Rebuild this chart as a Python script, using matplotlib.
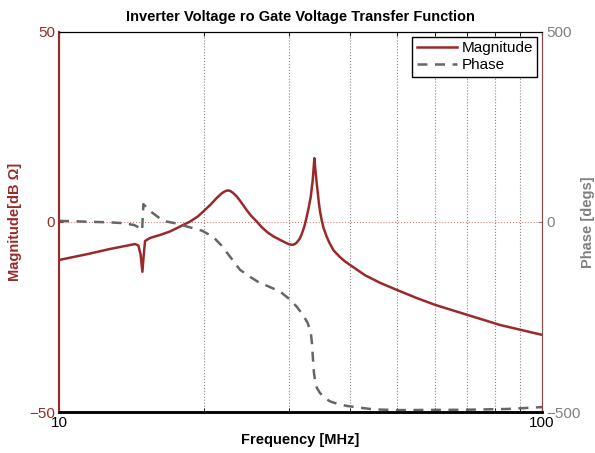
import matplotlib
matplotlib.use("Agg")
import matplotlib.pyplot as plt

plt.rcParams["font.family"] = ["Liberation Sans", "DejaVu Sans"]

# magnitude curve (MHz, dB)
mag_freq = [10.0, 11.5, 12.75, 13.6, 14.37, 14.6, 14.75, 14.88, 14.98, 15.07, 15.43,
            16.2, 16.97, 17.8, 18.67, 19.4, 20.06, 20.6, 21.2, 21.7, 22.0, 22.3,
            22.6, 22.9, 23.3, 23.7, 24.1, 24.5, 25.0, 25.67, 26.3, 27.0, 27.8,
            28.68, 29.5, 30.0, 30.33, 30.7, 31.06, 31.5, 31.8, 32.2, 32.57, 32.9,
            33.2, 33.5, 33.65, 33.78, 33.9, 34.05, 34.2, 34.5, 34.7, 35.0, 35.3,
            35.8, 36.3, 36.98, 38.0, 39.0, 40.04, 43.0, 46.19, 50.1, 55.0,
            60.03, 70.29, 81.85, 100.0]
mag_db = [-10.0, -8.4, -7.1, -6.4, -5.8, -6.2, -8.5, -13.1, -8.5, -5.0, -4.2,
          -3.4, -2.5, -1.2, 0.1, 1.5, 3.2, 4.6, 6.3, 7.5, 8.0, 8.3,
          8.2, 7.7, 6.8, 5.6, 4.3, 3.0, 1.6, 0.1, -1.4, -2.7, -3.8,
          -4.7, -5.5, -5.9, -6.0, -5.9, -5.4, -4.4, -3.2, -1.2, 1.4, 4.0,
          6.6, 10.8, 14.0, 16.8, 14.5, 12.0, 9.6, 5.2, 2.8, 0.3, -1.6,
          -3.8, -5.5, -7.4, -9.0, -10.3, -11.3, -14.0, -16.0, -17.9, -20.0,
          -21.8, -24.5, -27.1, -29.7]

# phase curve (MHz, degrees)
ph_freq = [10.0, 12.75, 13.57, 14.3, 14.72, 14.86, 14.95, 15.43, 16.42, 17.5, 18.41,
           19.78, 20.84, 21.7, 22.59, 23.7, 25.06, 26.0, 27.2, 28.68, 30.0, 31.06,
           32.0, 32.7, 33.2, 33.4, 33.55, 33.7, 33.9, 34.2, 34.7, 35.4, 36.39,
           37.8, 39.42, 44.68, 50.0, 70.0, 85.0, 100.0]
ph_deg = [3, -1, -3, -8, -16, -22, 47, 29, 3, -4, -12,
          -23, -39, -62, -91, -126, -147, -160, -170, -183, -203, -223,
          -245, -265, -290, -320, -360, -395, -420, -437, -450, -462, -472,
          -479, -484, -493, -495, -494, -492, -487]

red = "#9a2a2a"
gray = "#666666"

fig = plt.figure(figsize=(5.95, 4.53), dpi=100)
ax = fig.add_axes([0.0992, 0.0905, 0.8118, 0.8389])
ax2 = ax.twinx()

l1, = ax.semilogx(mag_freq, mag_db, color=red, lw=1.8, label="Magnitude")
l2, = ax2.semilogx(ph_freq, ph_deg, color=gray, lw=1.8, ls=(0, (4, 3)), label="Phase")

ax.set_xlim(10, 100)
ax.set_ylim(-50, 50)
ax2.set_ylim(-500, 500)

ax.set_xticks([10, 100], labels=["10", "100"])
ax.set_xticks([20, 30, 40, 50, 60, 70, 80, 90], minor=True)
ax.set_xticklabels([], minor=True)
ax.set_yticks([-50, 0, 50])
ax2.set_yticks([-500, 0, 500])

ax.tick_params(axis="x", which="both", direction="in", top=True, labelsize=11, length=3, pad=3)
ax.tick_params(axis="y", direction="in", colors=red, labelsize=11, length=3, pad=3)
ax2.tick_params(axis="y", direction="in", colors="#808080", labelsize=11, length=3, pad=3)

ax.grid(axis="x", which="minor", linestyle=":", color="#888888", lw=0.8)
ax.grid(axis="y", which="major", linestyle=":", color="#d08080", lw=0.8)

for a in (ax, ax2):
    a.spines["left"].set_color(red)
    a.spines["right"].set_color("#8a4a4a")
    a.spines["top"].set_color("black")
    a.spines["bottom"].set_color("black")
    a.spines["bottom"].set_linewidth(1.8)
    a.spines["left"].set_linewidth(1.5)

ax.set_xlabel("Frequency [MHz]", fontsize=10.5, fontweight="bold", labelpad=2)
ax.set_ylabel("Magnitude[dB \u03a9]", fontsize=10.5, fontweight="bold", color=red, labelpad=5)
ax2.set_ylabel("Phase [degs]", fontsize=10.5, fontweight="bold", color="#808080", labelpad=0)
ax.set_title("Inverter Voltage ro Gate Voltage Transfer Function", fontsize=10.5,
             fontweight="bold", pad=8)

leg = ax2.legend(handles=[l1, l2], loc="upper right", fontsize=11, fancybox=False,
                 framealpha=1, edgecolor="black", borderpad=0.3, handlelength=2.6,
                 handletextpad=0.3, labelspacing=0.2, borderaxespad=0.3)
leg.get_frame().set_linewidth(1.0)

fig.savefig("out.png", dpi=100)
